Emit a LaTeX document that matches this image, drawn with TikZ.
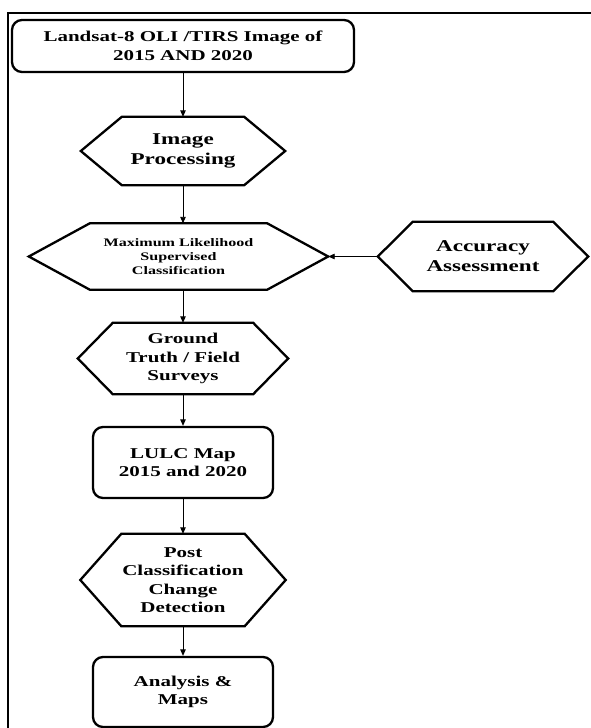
\documentclass[tikz,border=0pt]{standalone}
\usepackage{fontspec}
\newfontfamily\flowfont[FakeStretch=1.4]{Liberation Serif}
\usepackage{tikz}
\usetikzlibrary{arrows.meta}
\tikzset{
    every node/.style={align=center, inner sep=0pt,
    	font=\flowfont\bfseries\fontsize{15}{18.5}\selectfont}
}
\tikzset{
    every edge/.append style={line width=0.9pt, -{Triangle[length=6.5pt,width=5.5pt]}}
}
\tikzset{
	box/.style={draw, rounded corners=10pt, line width=2.3pt},
	small/.style={font=\flowfont\bfseries\fontsize{11.5}{14}\selectfont},
	large/.style={font=\flowfont\bfseries\fontsize{16.5}{20}\selectfont}
}
% hexagon round a node: name, horizontal cut
\newcommand{\hexdraw}[2]{%
	\draw[line width=2.3pt, line join=miter] (#1.west) -- ([xshift=#2]#1.north west)
		-- ([xshift=-#2]#1.north east) -- (#1.east) -- ([xshift=-#2]#1.south east)
		-- ([xshift=#2]#1.south west) -- cycle;}

\begin{document}
\begin{tikzpicture}[x=1pt,y=-1pt]
	\useasboundingbox (0,0) rectangle (590,728);
	\draw[line width=1.8pt] (8,732) |- (596,13);

	\node (1) [box, minimum width=342pt, minimum height=52pt] at (183,46)
		{Landsat-8 OLI /TIRS Image of\\2015 AND 2020};
	\node (2) [large, minimum width=204pt, minimum height=68pt] at (183,151)
		{Image\\Processing};
	\node (3) [small, minimum width=299pt, minimum height=66pt] at (178.5,256.5)
		{Maximum Likelihood\\Supervised\\Classification};
	\node (4) [large, minimum width=210pt, minimum height=69pt] at (483,256.5)
		{Accuracy\\Assessment};
	\node (5) [minimum width=210pt, minimum height=71pt] at (183,358.5)
		{Ground\\Truth / Field\\Surveys};
	\node (6) [box, minimum width=180pt, minimum height=71pt] at (183,462.5)
		{LULC Map\\2015 and 2020};
	\node (7) [minimum width=205pt, minimum height=92pt] at (183,580)
		{Post\\Classification\\Change\\Detection};
	\node (8) [box, minimum width=180pt, minimum height=70pt] at (183,692)
		{Analysis \&\\Maps};

	\hexdraw{2}{41pt} \hexdraw{3}{61pt} \hexdraw{4}{35pt}
	\hexdraw{5}{35pt} \hexdraw{7}{41pt}

	\draw (1) edge (2); \draw (2) edge (2 |- 3.north);
	\draw (4) edge (3); \draw (3.south -| 5) edge (5);
	\draw (5) edge (6); \draw (6) edge (7);
	\draw (7) edge (8);
\end{tikzpicture}
\end{document}
